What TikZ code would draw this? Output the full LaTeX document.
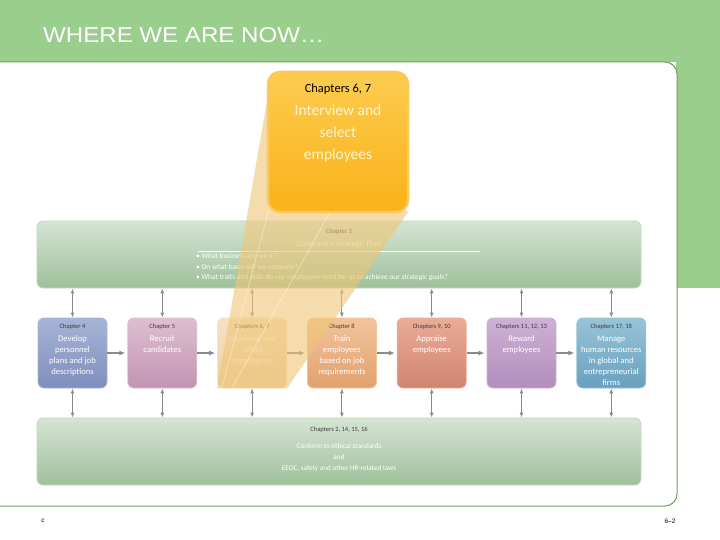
\documentclass[tikz,border=0pt]{standalone}
\usepackage{fontspec}
\setmainfont{Carlito}
\newfontfamily\headfont{Liberation Sans}
\newfontfamily\titlefont[FakeStretch=1.12]{Liberation Sans}
\usepackage{xcolor}
\usepackage{tikz}
\usetikzlibrary{positioning, arrows.meta}

\definecolor{bandgreen}{RGB}{154,206,141}
\definecolor{edgegreen}{RGB}{108,158,98}
\definecolor{bartop}{RGB}{214,228,212}
\definecolor{barbot}{RGB}{158,192,154}
\definecolor{barline}{RGB}{196,216,192}
\definecolor{arrowgray}{RGB}{138,138,142}
\definecolor{chapgray}{RGB}{60,60,60}
\definecolor{wedgetan}{RGB}{240,198,118}
\definecolor{calltop}{RGB}{252,204,80}
\definecolor{callbot}{RGB}{250,178,24}
\definecolor{calledge}{RGB}{253,200,90}
\definecolor{calltext}{RGB}{255,244,205}
\definecolor{bluetop}{RGB}{168,180,214}
\definecolor{bluebot}{RGB}{126,142,190}
\definecolor{pinktop}{RGB}{222,190,208}
\definecolor{pinkbot}{RGB}{194,148,178}
\definecolor{tantop}{RGB}{246,226,196}
\definecolor{tanbot}{RGB}{234,206,160}
\definecolor{orangetop}{RGB}{242,196,156}
\definecolor{orangebot}{RGB}{226,160,110}
\definecolor{salmontop}{RGB}{234,172,152}
\definecolor{salmonbot}{RGB}{208,132,112}
\definecolor{purpletop}{RGB}{206,176,212}
\definecolor{purplebot}{RGB}{178,142,188}
\definecolor{tealtop}{RGB}{152,196,216}
\definecolor{tealbot}{RGB}{104,160,190}

\newcommand{\stagetxt}[2]{\parbox[c][62pt][t]{65pt}{\centering\vspace*{2pt}
  {\fontsize{6.5}{8}\selectfont\color{chapgray}#1\par}\vspace{2pt}
  {\fontsize{8.6}{11}\selectfont #2\par}}}

\begin{document}
\begin{tikzpicture}[
    x=1pt, y=-1pt,
    node distance=20pt,
    every node/.style={align=center, inner sep=0pt},
    bar/.style={rounded corners=6pt, minimum width=604pt, minimum height=67pt,
        top color=bartop, bottom color=barbot, draw=barline, line width=0.8pt},
    stage/.style={rounded corners=6pt, minimum width=69pt, minimum height=70pt,
        inner xsep=2pt, inner ysep=4pt, text=white,
        top color=#1top, bottom color=#1bot, draw=#1top, line width=0.8pt},
    flow/.style={-{Latex[length=6pt,width=5pt]}, line width=1.6pt, draw=arrowgray, shorten >=2pt},
    link/.style={{Latex[length=5pt,width=4pt]}-{Latex[length=5pt,width=4pt]}, line width=1.1pt, draw=arrowgray},
    chap/.style={font=\fontsize{6.5}{8}\selectfont, text=chapgray},
    callout/.style={rounded corners=12pt, minimum width=140pt, minimum height=140pt,
        inner sep=6pt, top color=calltop, bottom color=callbot, draw=calledge, line width=2.5pt, text=calltext}
]
\useasboundingbox (0,0) rectangle (720,540);

% slide frame
\fill[bandgreen] (0,0) rectangle (720,62);
\fill[bandgreen] (676,0) rectangle (720,288);
\filldraw[fill=white, draw=edgegreen, line width=1pt, rounded corners=12pt]
    (0,62) -- (677,62) -- (677,506) -- (0,506);
\node[anchor=west, font=\titlefont\fontsize{21.5}{24}\selectfont, text=white] (title) at (43,35) {WHERE WE ARE NOW…};
\node[font=\headfont\fontsize{6.5}{8}\selectfont] (copy) at (43,521) {c};
\node[font=\headfont\fontsize{6.5}{8}\selectfont] (page) at (670,521) {6–2};

% strategic plan
\node[bar] (plan) at (339,254.5) {};
\node[chap] (planchap) at (339,232) {Chapter 3};
\node[font=\fontsize{8.3}{10}\selectfont, text=white] (plantitle) at (339,244) {Company's Strategic Plan};
\draw[white, line width=0.8pt] (198,251) -- (480,251);
\node[anchor=north west, align=left, font=\fontsize{7.4}{10.5}\selectfont, text=white] (planqs) at (196,253.5)
    {• What business are we in?\\• On what basis will we compete?\\• What traits and skills do our employees need for us to achieve our strategic goals?};

% HR steps
\node[stage=blue] (s1) at (72.5,353)
    {\stagetxt{Chapter 4}{Develop\\personnel\\plans and job\\descriptions}};
\node[stage=pink] (s2) [right=of s1]
    {\stagetxt{Chapter 5}{Recruit\\candidates}};
\node[stage=tan] (s3) [right=of s2]
    {\stagetxt{Chapters 6, 7}{Interview and\\select\\employees}};
\node[stage=orange] (s4) [right=of s3]
    {\stagetxt{Chapter 8}{Train\\employees\\based on job\\requirements}};
\node[stage=salmon] (s5) [right=of s4]
    {\stagetxt{Chapters 9, 10}{Appraise\\employees}};
\node[stage=purple] (s6) [right=of s5]
    {\stagetxt{Chapters 11, 12, 13}{Reward\\employees}};
\node[stage=teal] (s7) [right=of s6]
    {\stagetxt{Chapters 17, 18}{Manage\\human resources\\in global and\\entrepreneurial\\firms}};

% ethics and law
\node[bar] (laws) at (339,451.5) {};
\node[chap] (lawschap) at (339,430) {Chapters 2, 14, 15, 16};
\node[font=\fontsize{7.2}{11}\selectfont, text=white] (lawstxt) at (339,458)
    {Conform to ethical standards\\and\\EEOC, safety and other HR-related laws};

\foreach \i in {1,...,7} {
    \draw[link] (s\i.north |- plan.south) -- (s\i.north);
    \draw[link] (s\i.south) -- (s\i.south |- laws.north);
}
\foreach \i/\j in {1/2,2/3,3/4,4/5,5/6,6/7}
    \draw[flow] (s\i) -- (s\j);

% zoom beam onto chapters 6, 7
\fill[wedgetan, opacity=0.6] (272,72) -- (408,212) -- (s3.south east) -- (s3.south west) -- cycle;
\draw[white, opacity=0.5, line width=0.6pt] (268,212) -- (222,388);
\draw[white, opacity=0.5, line width=0.6pt] (330,212) -- (232,388);

\node[callout] (focus) at (338,142)
    {\parbox[c][128pt][t]{128pt}{\centering\vspace*{6pt}
     {\fontsize{12.5}{14}\selectfont\color{black}Chapters 6, 7\par}\vspace{1pt}
     {\fontsize{15.5}{22}\selectfont Interview and\\select\\employees\par}}};

\end{tikzpicture}
\end{document}
